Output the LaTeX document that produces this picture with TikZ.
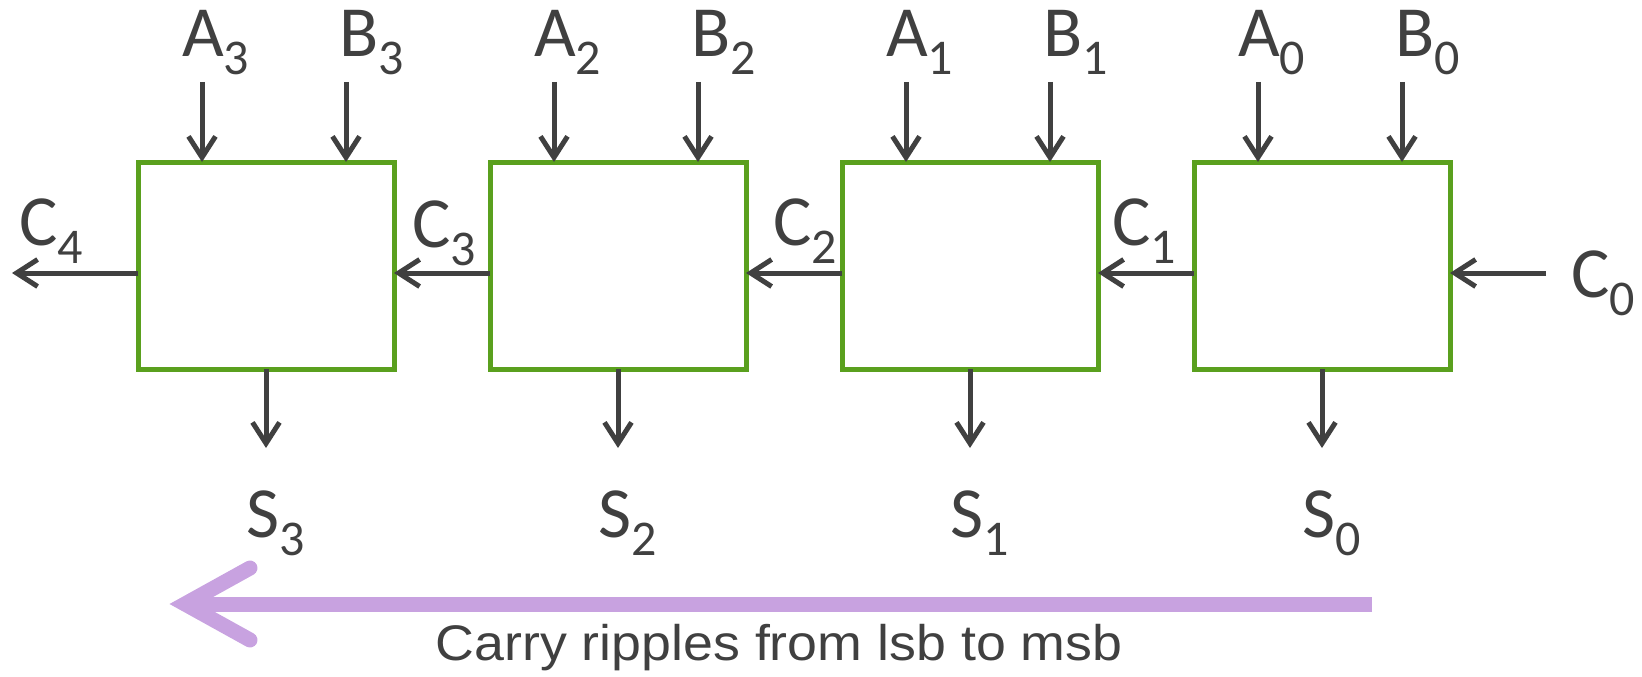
\documentclass[tikz,border=0pt]{standalone}
\usepackage{fontspec}
\setmainfont{Carlito}
\newfontfamily\captionfont{Liberation Sans}
\usetikzlibrary{arrows.meta}
\definecolor{ink}{HTML}{404040}
\definecolor{boxgreen}{HTML}{5AA01E}
\definecolor{ripple}{HTML}{C8A2E0}
\newcommand{\sig}[2]{#1\raisebox{-18pt}{\fontsize{50}{50}\selectfont #2}}
\begin{document}
\begin{tikzpicture}[x=1pt,y=-1pt,
  adder/.style={draw=boxgreen,line width=5pt,minimum width=256pt,minimum height=207pt,inner sep=0pt,outer sep=0pt},
  wire/.style={draw=ink,line width=5pt,-{Straight Barb[length=21pt,width=27pt,line width=5pt]}},
  lbl/.style={text=ink,font=\fontsize{72}{72}\selectfont,inner sep=0pt,anchor=base west}]
\useasboundingbox (0,0) rectangle (1642,677);
\coordinate (cy) at (0,273);
% four full-adder blocks, msb on the left
\foreach \i/\x in {3/266,2/618,1/970,0/1322}{
  \node[adder] (b\i) at (\x,265.5) {};
  \coordinate (a\i) at (\x-64,82);
  \coordinate (bb\i) at (\x+80,82);
  \coordinate (s\i) at (\x,448);
  \draw[wire] (a\i) -- (a\i |- b\i.north);
  \draw[wire] (bb\i) -- (bb\i |- b\i.north);
  \draw[wire] (b\i.south) -- (s\i);
  \node[lbl] (la\i) at (\x-84,57) {\sig{A}{\i}};
  \node[lbl] (lb\i) at (\x+73,57) {\sig{B}{\i}};
  \node[lbl] (ls\i) at (\x-20,537) {\sig{S}{\i}};
}
% carry chain
\coordinate (c4end) at (12,273);
\coordinate (c0start) at (1546,273);
\draw[wire] (b3.west |- cy) -- (c4end);
\draw[wire] (b2.west |- cy) -- (b3.east |- cy);
\draw[wire] (b1.west |- cy) -- (b2.east |- cy);
\draw[wire] (b0.west |- cy) -- (b1.east |- cy);
\draw[wire] (c0start) -- (b0.east |- cy);
\node[lbl] (lc4) at (19,245) {\sig{C}{4}};
\node[lbl] (lc3) at (412,247) {\sig{C}{3}};
\node[lbl] (lc2) at (773,245) {\sig{C}{2}};
\node[lbl] (lc1) at (1112,245) {\sig{C}{1}};
\node[lbl] (lc0) at (1571,297) {\sig{C}{0}};
% ripple direction
\coordinate (rstart) at (1372,604);
\coordinate (rtip) at (185,604);
\draw[ripple,line width=15pt] (rstart) -- (rtip);
\draw[ripple,line width=15pt,line cap=round,line join=miter] (250,568) -- (rtip) -- (250,640);
\node[text=ink,font=\captionfont\fontsize{50}{50}\selectfont,inner sep=0pt,anchor=base] (cap) at (779,660) {\scalebox{1.075}[1]{Carry ripples from lsb to msb}};
\end{tikzpicture}
\end{document}
